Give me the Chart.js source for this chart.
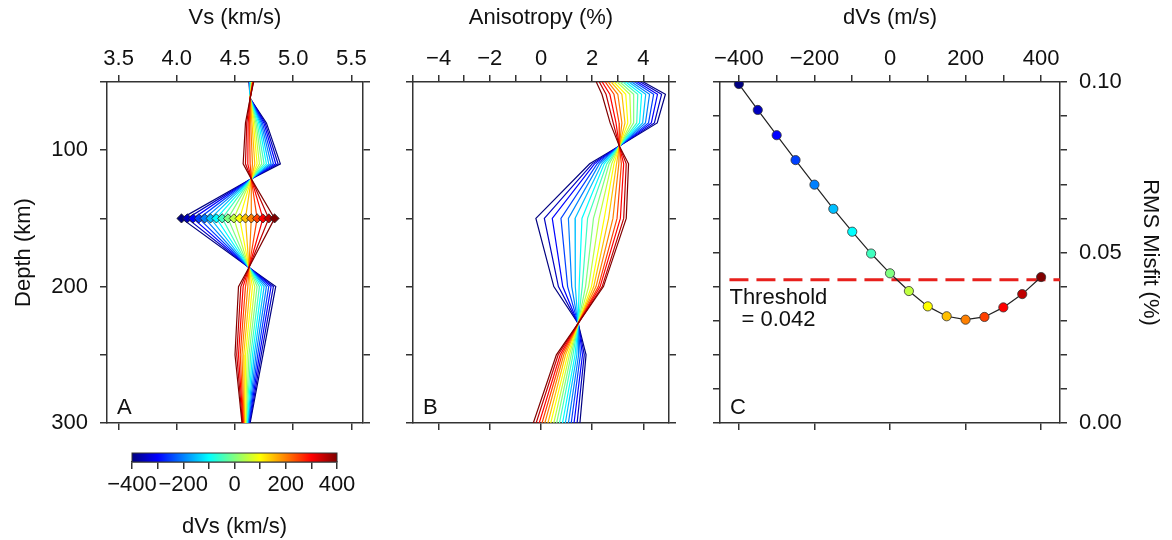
<!DOCTYPE html>
<html>
<head>
<meta charset="utf-8">
<title>Vs perturbation test</title>
<script src="https://cdn.jsdelivr.net/npm/chart.js@4.4.1/dist/chart.umd.min.js"></script>
<style>
  body { margin: 0; background: #fff; }
  #wrap { position: relative; width: 1172px; height: 540px; overflow: hidden; }
  .panel { position: absolute; }
</style>
</head>
<body>
<div id="wrap">
  <div class="panel" style="left:0;top:0"><canvas id="vsChart" width="380" height="440"></canvas></div>
  <div class="panel" style="left:380px;top:0"><canvas id="anisoChart" width="300" height="440"></canvas></div>
  <div class="panel" style="left:680px;top:0"><canvas id="misfitChart" width="492" height="440"></canvas></div>
  <div class="panel" style="left:100px;top:440px"><canvas id="scaleBar" width="280" height="100"></canvas></div>
</div>
<script>
// perturbation applied at 150 km, one model per step
const dvsSteps = [-400, -350, -300, -250, -200, -150, -100, -50, 0, 50, 100, 150, 200, 250, 300, 350, 400];
const markerDepth = 150;

// Vs (km/s) at each node depth, one row per dVs step
const vsDepths = [50, 62, 80, 110, 121, 150, 186, 200, 250, 300];
const vsProfiles = [
    [4.620, 4.63, 4.770, 4.89, 4.64, 4.04, 4.62, 4.85, 4.740, 4.630],
    [4.623, 4.63, 4.759, 4.87, 4.64, 4.09, 4.62, 4.83, 4.725, 4.626],
    [4.625, 4.63, 4.748, 4.85, 4.64, 4.14, 4.62, 4.81, 4.710, 4.621],
    [4.628, 4.63, 4.736, 4.83, 4.64, 4.19, 4.62, 4.79, 4.695, 4.617],
    [4.630, 4.63, 4.725, 4.81, 4.64, 4.24, 4.62, 4.77, 4.680, 4.613],
    [4.633, 4.63, 4.714, 4.79, 4.64, 4.29, 4.62, 4.75, 4.665, 4.608],
    [4.635, 4.63, 4.703, 4.77, 4.64, 4.34, 4.62, 4.73, 4.650, 4.604],
    [4.638, 4.63, 4.691, 4.75, 4.64, 4.39, 4.62, 4.71, 4.635, 4.599],
    [4.640, 4.63, 4.680, 4.73, 4.64, 4.44, 4.62, 4.69, 4.620, 4.595],
    [4.643, 4.63, 4.669, 4.71, 4.64, 4.49, 4.62, 4.67, 4.605, 4.591],
    [4.645, 4.63, 4.658, 4.69, 4.64, 4.54, 4.62, 4.65, 4.590, 4.586],
    [4.648, 4.63, 4.646, 4.67, 4.64, 4.59, 4.62, 4.63, 4.575, 4.582],
    [4.650, 4.63, 4.635, 4.65, 4.64, 4.64, 4.62, 4.61, 4.560, 4.578],
    [4.653, 4.63, 4.624, 4.63, 4.64, 4.69, 4.62, 4.59, 4.545, 4.573],
    [4.655, 4.63, 4.613, 4.61, 4.64, 4.74, 4.62, 4.57, 4.530, 4.569],
    [4.658, 4.63, 4.601, 4.59, 4.64, 4.79, 4.62, 4.55, 4.515, 4.564],
    [4.660, 4.63, 4.590, 4.57, 4.64, 4.84, 4.62, 4.53, 4.500, 4.560]
];

// anisotropy (%) at each node depth
const anisoDepths = [50, 59, 80, 97, 110, 150, 200, 227, 250, 300];
const anisoProfiles = [
    [4.00, 4.86, 4.54, 3.06, 1.90, -0.20, 0.50, 1.45, 1.76, 1.52],
    [3.89, 4.71, 4.43, 3.06, 2.00, 0.13, 0.68, 1.45, 1.69, 1.41],
    [3.77, 4.55, 4.31, 3.06, 2.09, 0.44, 0.85, 1.45, 1.62, 1.29],
    [3.66, 4.40, 4.20, 3.06, 2.19, 0.78, 1.04, 1.45, 1.54, 1.18],
    [3.54, 4.24, 4.08, 3.06, 2.28, 1.07, 1.20, 1.45, 1.47, 1.07],
    [3.43, 4.09, 3.97, 3.06, 2.38, 1.33, 1.34, 1.45, 1.40, 0.95],
    [3.31, 3.93, 3.85, 3.06, 2.47, 1.60, 1.49, 1.45, 1.33, 0.84],
    [3.20, 3.78, 3.74, 3.06, 2.57, 1.82, 1.61, 1.45, 1.25, 0.72],
    [3.08, 3.62, 3.62, 3.06, 2.66, 2.05, 1.74, 1.45, 1.18, 0.61],
    [2.97, 3.47, 3.51, 3.06, 2.76, 2.27, 1.86, 1.45, 1.11, 0.50],
    [2.85, 3.31, 3.39, 3.06, 2.85, 2.47, 1.97, 1.45, 1.04, 0.38],
    [2.74, 3.16, 3.28, 3.06, 2.95, 2.64, 2.06, 1.45, 0.96, 0.27],
    [2.62, 3.00, 3.16, 3.06, 3.04, 2.81, 2.15, 1.45, 0.89, 0.15],
    [2.51, 2.85, 3.05, 3.06, 3.14, 2.97, 2.24, 1.45, 0.82, 0.04],
    [2.39, 2.69, 2.93, 3.06, 3.23, 3.10, 2.31, 1.45, 0.75, -0.07],
    [2.28, 2.54, 2.82, 3.06, 3.33, 3.23, 2.39, 1.45, 0.67, -0.19],
    [2.16, 2.38, 2.70, 3.06, 3.42, 3.33, 2.44, 1.45, 0.60, -0.30]
];

// RMS misfit (%) for each dVs step
const misfit = [0.0994, 0.0918, 0.0844, 0.0771, 0.0699, 0.0628, 0.0561, 0.0497, 0.0439,
                0.0387, 0.0342, 0.0313, 0.0303, 0.0311, 0.0339, 0.0378, 0.0428];
const threshold = 0.042;

// tick positions and which of them carry labels
const vsTicks = [3.5, 4.0, 4.5, 5.0, 5.5];
const depthTicks = [50, 100, 150, 200, 250, 300];
const depthLabels = [100, 200, 300];
const anisoTicks = [-5, -4, -3, -2, -1, 0, 1, 2, 3, 4, 5];
const anisoLabels = [-4, -2, 0, 2, 4];
const dvsTicks = [-400, -300, -200, -100, 0, 100, 200, 300, 400];
const dvsLabels = [-400, -200, 0, 200, 400];
const misfitTicks = [0, 0.01, 0.02, 0.03, 0.04, 0.05, 0.06, 0.07, 0.08, 0.09, 0.10];
const misfitLabels = [0, 0.05, 0.10];


Chart.defaults.font.family = '"Liberation Sans", Arial, Helvetica, sans-serif';
Chart.defaults.font.size = 22;
Chart.defaults.color = '#111';

const FRAME = '#333';

function jet(t) {
    const r = Math.min(1, Math.max(0, 1.5 - Math.abs(4 * t - 3)));
    const g = Math.min(1, Math.max(0, 1.5 - Math.abs(4 * t - 2)));
    const b = Math.min(1, Math.max(0, 1.5 - Math.abs(4 * t - 1)));
    return `rgb(${Math.round(r * 255)},${Math.round(g * 255)},${Math.round(b * 255)})`;
}
const stepColors = dvsSteps.map((_, k) => jet(k / (dvsSteps.length - 1)));

function minusSign(v) {
    return String(v).replace('-', '\u2212');
}

// one side of the boxed frame: fixed box size, own tick list, outward ticks
function frameAxis(position, min, max, size, ticks, labels, fmt, extra = {}) {
    const horizontal = position === 'top' || position === 'bottom';
    return Object.assign({
        type: 'linear',
        position: position,
        min: min,
        max: max,
        afterBuildTicks: (s) => { s.ticks = ticks.map(v => ({ value: v })); },
        afterFit: (s) => {
            if (horizontal) s.height = size; else s.width = size;
            // end labels may hang over the frame corners; don't let them shrink the plot
            s.paddingTop = s.paddingBottom = s.paddingLeft = s.paddingRight = 0;
        },
        grid: { drawOnChartArea: false, drawTicks: true, tickLength: 7, color: FRAME, lineWidth: 1.5 },
        border: { display: true, color: FRAME, width: 1.5 },
        ticks: {
            display: labels.length > 0,
            autoSkip: false,
            maxRotation: 0,
            padding: horizontal ? 3 : 12,
            callback: (v) => labels.includes(v) ? fmt(v) : ''
        }
    }, extra);
}

function axisTitle(text, pad) {
    return { display: true, text: text, font: { size: 22 }, color: '#111', padding: pad };
}

const panelLetter = {
    id: 'panelLetter',
    afterDraw(chart, args, opts) {
        const { ctx, chartArea } = chart;
        ctx.save();
        ctx.font = '22px "Liberation Sans", Arial, sans-serif';
        ctx.fillStyle = '#111';
        ctx.textBaseline = 'alphabetic';
        ctx.fillText(opts.text, chartArea.left + 10, chartArea.bottom - 9);
        ctx.restore();
    }
};

const baseOptions = {
    responsive: false,
    animation: false,
    layout: { padding: 0 },
    plugins: { legend: { display: false }, tooltip: { enabled: false } }
};

function profileDatasets(depths, profiles, withMarkers) {
    const sets = [];
    if (withMarkers) {
        const mi = depths.indexOf(markerDepth);
        sets.push({
            data: profiles.map(row => ({ x: row[mi], y: markerDepth })),
            showLine: false,
            pointStyle: 'rectRot',
            pointRadius: 4.6,
            pointBackgroundColor: stepColors,
            pointBorderColor: '#222',
            pointBorderWidth: 0.8
        });
    }
    // lower dataset index is painted later, so the red end goes first to sit on top
    for (let k = profiles.length - 1; k >= 0; k--) {
        sets.push({
            data: depths.map((d, i) => ({ x: profiles[k][i], y: d })),
            showLine: true,
            borderColor: stepColors[k],
            borderWidth: 1.2,
            pointRadius: 0,
            tension: 0
        });
    }
    return sets;
}

// A: shear velocity profiles
new Chart(document.getElementById('vsChart'), {
    type: 'scatter',
    data: { datasets: profileDatasets(vsDepths, vsProfiles, true) },
    options: Object.assign({}, baseOptions, {
        scales: {
            x: frameAxis('top', 3.4, 5.6, 82, vsTicks, vsTicks, v => v.toFixed(1),
                { title: axisTitle('Vs (km/s)', { top: 5, bottom: 0 }) }),
            x2: frameAxis('bottom', 3.4, 5.6, 17, vsTicks, [], v => ''),
            y: frameAxis('left', 50, 300, 107, depthTicks, depthLabels, v => String(v),
                { reverse: true, title: axisTitle('Depth (km)', { top: 11, bottom: 0 }) }),
            y2: frameAxis('right', 50, 300, 17, depthTicks, [], v => '', { reverse: true })
        },
        plugins: Object.assign({}, baseOptions.plugins, { panelLetter: { text: 'A' } })
    }),
    plugins: [panelLetter]
});

// B: anisotropy profiles
new Chart(document.getElementById('anisoChart'), {
    type: 'scatter',
    data: { datasets: profileDatasets(anisoDepths, anisoProfiles, false) },
    options: Object.assign({}, baseOptions, {
        scales: {
            x: frameAxis('top', -5, 5, 82, anisoTicks, anisoLabels, minusSign,
                { title: axisTitle('Anisotropy (%)', { top: 5, bottom: 0 }) }),
            x2: frameAxis('bottom', -5, 5, 17, anisoLabels, [], v => ''),
            y: frameAxis('left', 50, 300, 33, depthTicks, [], v => '', { reverse: true }),
            y2: frameAxis('right', 50, 300, 11, depthTicks, [], v => '', { reverse: true })
        },
        plugins: Object.assign({}, baseOptions.plugins, { panelLetter: { text: 'B' } })
    }),
    plugins: [panelLetter]
});

// C: misfit against perturbation size
const thresholdNote = {
    id: 'thresholdNote',
    afterDatasetsDraw(chart) {
        const { ctx, scales } = chart;
        const x = scales.x.getPixelForValue(-425);
        const y = scales.y2.getPixelForValue(threshold);
        ctx.save();
        ctx.font = '22px "Liberation Sans", Arial, sans-serif';
        ctx.fillStyle = '#111';
        ctx.textBaseline = 'middle';
        ctx.fillText('Threshold', x, y + 18);
        ctx.fillText('= 0.042', x + 12, y + 40);
        ctx.restore();
    }
};

new Chart(document.getElementById('misfitChart'), {
    type: 'scatter',
    data: {
        datasets: [
            {
                data: dvsSteps.map((d, i) => ({ x: d, y: misfit[i] })),
                yAxisID: 'y2',
                showLine: true,
                borderColor: '#222',
                borderWidth: 1.2,
                pointRadius: 4.6,
                pointBackgroundColor: stepColors,
                pointBorderColor: '#333',
                pointBorderWidth: 0.8
            },
            {
                data: [{ x: -425, y: threshold }, { x: 450, y: threshold }],
                yAxisID: 'y2',
                showLine: true,
                borderColor: '#e8201c',
                borderWidth: 3,
                borderDash: [19, 8],
                pointRadius: 0
            }
        ]
    },
    options: Object.assign({}, baseOptions, {
        scales: {
            x: frameAxis('top', -450, 450, 82, dvsTicks, dvsLabels, minusSign,
                { title: axisTitle('dVs (m/s)', { top: 5, bottom: 0 }) }),
            x2: frameAxis('bottom', -450, 450, 17, dvsLabels, [], v => ''),
            y: frameAxis('left', 0, 0.1, 40, misfitTicks, [], v => ''),
            y2: frameAxis('right', 0, 0.1, 112, misfitTicks, misfitLabels, v => v.toFixed(2),
                { title: axisTitle('RMS Misfit (%)', { top: 9, bottom: 0 }) })
        },
        plugins: Object.assign({}, baseOptions.plugins, { panelLetter: { text: 'C' } })
    }),
    plugins: [panelLetter, thresholdNote]
});

// colour scale for the dVs steps
const jetFill = {
    id: 'jetFill',
    beforeDatasetsDraw(chart) {
        const { ctx, chartArea: a } = chart;
        const grad = ctx.createLinearGradient(a.left, 0, a.right, 0);
        for (let i = 0; i <= 8; i++) grad.addColorStop(i / 8, jet(i / 8));
        ctx.save();
        ctx.fillStyle = grad;
        ctx.fillRect(a.left, a.top, a.right - a.left, a.bottom - a.top);
        ctx.strokeStyle = FRAME;
        ctx.lineWidth = 1;
        ctx.strokeRect(a.left, a.top, a.right - a.left, a.bottom - a.top);
        ctx.restore();
    }
};

new Chart(document.getElementById('scaleBar'), {
    type: 'scatter',
    data: { datasets: [] },
    options: Object.assign({}, baseOptions, {
        layout: { padding: { left: 32, right: 43, top: 13, bottom: 0 } },
        scales: {
            x: frameAxis('bottom', -400, 400, 78, dvsTicks, dvsLabels, minusSign, {
                title: { display: true, text: 'dVs (km/s)', font: { size: 22, lineHeight: 1 }, color: '#111', padding: { top: 0, bottom: 2 } }
            }),
            y: { display: false, min: 0, max: 1 }
        }
    }),
    plugins: [jetFill]
});
</script>
</body>
</html>
